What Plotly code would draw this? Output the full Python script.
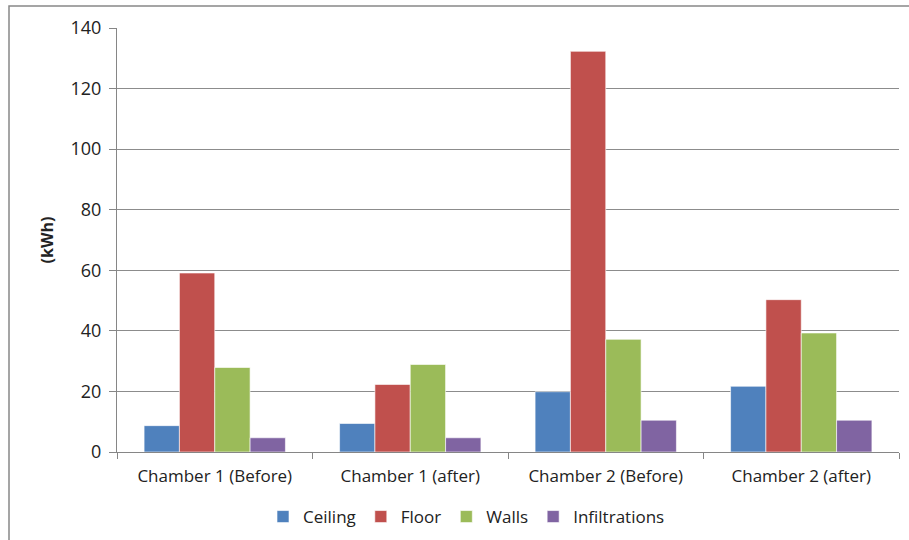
import plotly.graph_objects as go

categories = ["Chamber 1 (Before)", "Chamber 1 (after)", "Chamber 2 (Before)", "Chamber 2 (after)"]
ceiling = [8.7, 9.4, 19.9, 21.7]
floor = [59.1, 22.3, 132.3, 50.3]
walls = [27.9, 28.9, 37.2, 39.3]
infiltrations = [4.7, 4.7, 10.5, 10.5]

series = [
    ("Ceiling", ceiling, "#4F81BD"),
    ("Floor", floor, "#C0504D"),
    ("Walls", walls, "#9BBB59"),
    ("Infiltrations", infiltrations, "#8064A2"),
]

FONT = "Open Sans"

fig = go.Figure()
for name, vals, color in series:
    fig.add_trace(go.Bar(
        name=name, x=categories, y=vals,
        marker=dict(color=color, line=dict(color="rgba(255,255,255,0.6)", width=1)),
    ))

W, H = 909, 540
L, R, T, B = 117, 10, 28, 88
pw, ph = W - L - R, H - T - B

def px_x(p):
    return (p - L) / pw

def px_y(p):
    return (H - B - p) / ph

fig.update_layout(
    width=W, height=H,
    margin=dict(l=L, r=R, t=T, b=B, autoexpand=False),
    paper_bgcolor="white", plot_bgcolor="white",
    barmode="group", bargap=0.277, bargroupgap=0,
    font=dict(family=FONT, size=17, color="#222222"),
    showlegend=True,
    legend=dict(
        orientation="h", x=px_x(263), y=px_y(517),
        xanchor="left", yanchor="middle",
        font=dict(family=FONT, size=17, color="#222222"),
        itemwidth=30, traceorder="normal",
    ),
    xaxis=dict(
        type="category", showline=True, linecolor="#868686", linewidth=1,
        ticks="outside", tickson="boundaries", ticklen=6, tickcolor="#868686",
        tickfont=dict(size=17), showgrid=False, ticklabelstandoff=9,
        automargin=False,
    ),
    yaxis=dict(
        range=[0, 140], dtick=20, showline=True, linecolor="#868686", linewidth=1,
        ticks="outside", ticklen=7, tickcolor="#868686",
        showgrid=True, gridcolor="#8C8C8C", gridwidth=1,
        tickfont=dict(size=18), zeroline=False, ticklabelstandoff=4,
        title=dict(text="<b>(kWh)</b>", font=dict(size=16), standoff=12),
        automargin=False,
    ),
    shapes=[dict(
        type="rect", xref="paper", yref="paper",
        x0=px_x(9), x1=px_x(960), y0=px_y(6), y1=px_y(600),
        line=dict(color="#888888", width=1.5), layer="below",
    )],
)

fig.write_html("out.html")
